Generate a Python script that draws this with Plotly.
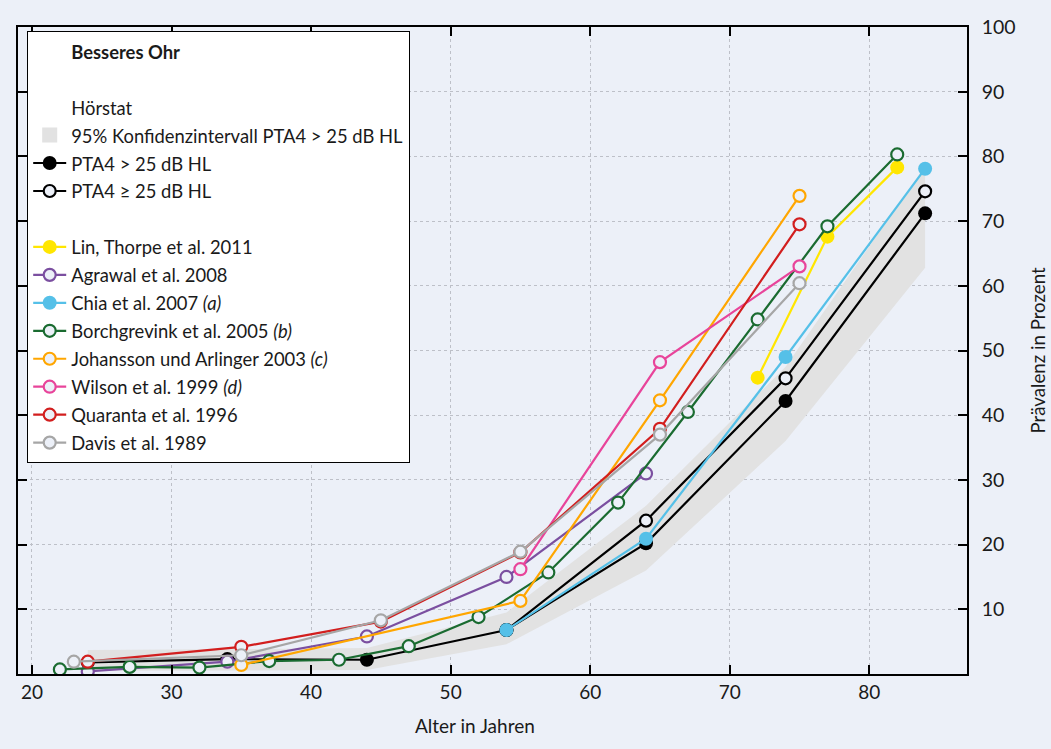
import plotly.graph_objects as go

# ---------------- data ----------------
ages_hs = [24, 34, 44, 54, 64, 74, 84]
pta_gt = [1.8, 2.3, 2.2, 6.8, 20.2, 42.2, 71.2]
ci_upper = [3.7, 3.8, 4.0, 9.5, 26.0, 47.5, 78.5]
ci_lower = [0.5, 0.5, 0.6, 4.6, 16.0, 36.0, 62.8]
ages_ge = [54, 64, 74, 84]
pta_ge = [6.8, 23.7, 45.7, 74.6]

lin_x = [72, 77, 82]
lin_y = [45.8, 67.6, 78.3]
agr_x = [24, 34, 44, 54, 64]
agr_y = [0.4, 1.9, 5.8, 15.0, 31.0]
chia_x = [54, 64, 74, 84]
chia_y = [6.8, 20.9, 49.0, 78.1]
bor_x = [22, 27, 32, 37, 42, 47, 52, 57, 62, 67, 72, 77, 82]
bor_y = [0.7, 1.1, 1.0, 2.0, 2.2, 4.3, 8.8, 15.7, 26.5, 40.5, 54.8, 69.2, 80.3]
joh_x = [35, 55, 65, 75]
joh_y = [1.4, 11.3, 42.3, 73.9]
wil_x = [55, 65, 75]
wil_y = [16.2, 48.2, 63.0]
qua_x = [24, 35, 45, 55, 65, 75]
qua_y = [1.9, 4.2, 8.1, 18.8, 37.9, 69.5]
dav_x = [23, 35, 45, 55, 65, 75]
dav_y = [1.9, 2.9, 8.3, 18.9, 37.0, 60.4]

x_ticks = [20, 30, 40, 50, 60, 70, 80]
y_ticks = [10, 20, 30, 40, 50, 60, 70, 80, 90, 100]

studies = [
    ("Lin, Thorpe et al. 2011", lin_x, lin_y, "#FFE600", True),
    ("Agrawal et al. 2008", agr_x, agr_y, "#7B4FA0", False),
    ("Chia et al. 2007 <i>(a)</i>", chia_x, chia_y, "#55C0E8", True),
    ("Borchgrevink et al. 2005 <i>(b)</i>", bor_x, bor_y, "#1A6B30", False),
    ("Johansson und Arlinger 2003 <i>(c)</i>", joh_x, joh_y, "#FFA600", False),
    ("Wilson et al. 1999 <i>(d)</i>", wil_x, wil_y, "#E8449A", False),
    ("Quaranta et al. 1996", qua_x, qua_y, "#D21E1E", False),
    ("Davis et al. 1989", dav_x, dav_y, "#A6A6A6", False),
]

BG = "#ECF0F8"
FONT = "Lato"
LEG_TXT = 18.4


def lbl(t):
    return f'<span style="font-size:{LEG_TXT}px">{t}</span>'


fig = go.Figure()


def dummy(name, symbol="circle", color="rgba(0,0,0,0)", size=10):
    fig.add_trace(go.Scatter(x=[None], y=[None], mode="markers", name=name,
                             marker=dict(symbol=symbol, color=color, size=size,
                                         line=dict(width=0)),
                             hoverinfo="skip", showlegend=True))


dummy(lbl("<b>Besseres Ohr</b>"))
dummy("&nbsp;")
dummy(lbl("Hörstat"))
dummy(lbl("95% Konfidenzintervall PTA4 > 25 dB HL"), symbol="square",
      color="#E2E2E2", size=15)

# confidence band
fig.add_trace(go.Scatter(x=ages_hs + ages_hs[::-1], y=ci_upper + ci_lower[::-1],
                         mode="lines", fill="toself", fillcolor="#E2E2E2",
                         line=dict(width=0), showlegend=False, hoverinfo="skip"))

fig.add_trace(go.Scatter(x=ages_hs, y=pta_gt, mode="lines+markers",
                         name=lbl("PTA4 > 25 dB HL"),
                         line=dict(color="black", width=2.2),
                         marker=dict(size=14, color="black",
                                     line=dict(color="black", width=0))))
fig.add_trace(go.Scatter(x=ages_ge, y=pta_ge, mode="lines+markers",
                         name=lbl("PTA4 ≥ 25 dB HL"),
                         line=dict(color="black", width=2.2),
                         marker=dict(size=12, color=BG,
                                     line=dict(color="black", width=2.2))))
dummy("&nbsp;&nbsp;")

for name, xs, ys, col, filled in studies:
    if filled:
        mk = dict(size=14, color=col, line=dict(color=col, width=0))
    else:
        mk = dict(size=12, color=BG, line=dict(color=col, width=2.2))
    fig.add_trace(go.Scatter(x=xs, y=ys, mode="lines+markers", name=lbl(name),
                             line=dict(color=col, width=2.2), marker=mk))

L, R, T, B = 18, 84, 27, 75
W, H = 1051, 749
pw, ph = W - L - R, H - T - B

fig.update_layout(
    width=W, height=H,
    margin=dict(l=L, r=R, t=T, b=B, pad=0),
    paper_bgcolor=BG, plot_bgcolor=BG,
    font=dict(family=FONT, size=19, color="#1a1a1a"),
    showlegend=True,
    legend=dict(x=(27 - L) / pw, y=(H - B - 31) / ph, xanchor="left", yanchor="top",
                bgcolor="white", bordercolor="black", borderwidth=1.2,
                font=dict(family=FONT, size=19.2, color="#1a1a1a"),
                itemwidth=33,
                traceorder="normal", itemsizing="trace", tracegroupgap=0),
    xaxis=dict(range=[19, 87], tickvals=x_ticks, ticktext=[str(v) for v in x_ticks],
               showline=True, linecolor="black", linewidth=1.5, mirror="allticks",
               ticks="inside", ticklen=9, tickwidth=1.5, tickcolor="black",
               showgrid=True, gridcolor="#BDC0C8", griddash="dot", gridwidth=1,
               zeroline=False, tickfont=dict(size=19)),
    yaxis=dict(range=[0, 100], tickvals=y_ticks, side="right",
               showline=True, linecolor="black", linewidth=1.5, mirror="allticks",
               ticks="inside", ticklen=9, tickwidth=1.5, tickcolor="black",
               ticklabelstandoff=9,
               showgrid=True, gridcolor="#BDC0C8", griddash="dot", gridwidth=1,
               zeroline=False, tickfont=dict(size=19.5)),
    annotations=[
        dict(text="Alter in Jahren", xref="paper", yref="paper",
             x=(475 - L) / pw, y=-(725 - (H - B)) / ph, showarrow=False,
             xanchor="center", yanchor="middle", font=dict(size=19)),
        dict(text="Prävalenz in Prozent", xref="paper", yref="paper",
             x=(1037 - L) / pw, y=0.5, showarrow=False, textangle=-90,
             xanchor="center", yanchor="middle", font=dict(size=18.7)),
    ],
)

fig.write_html("out.html")
